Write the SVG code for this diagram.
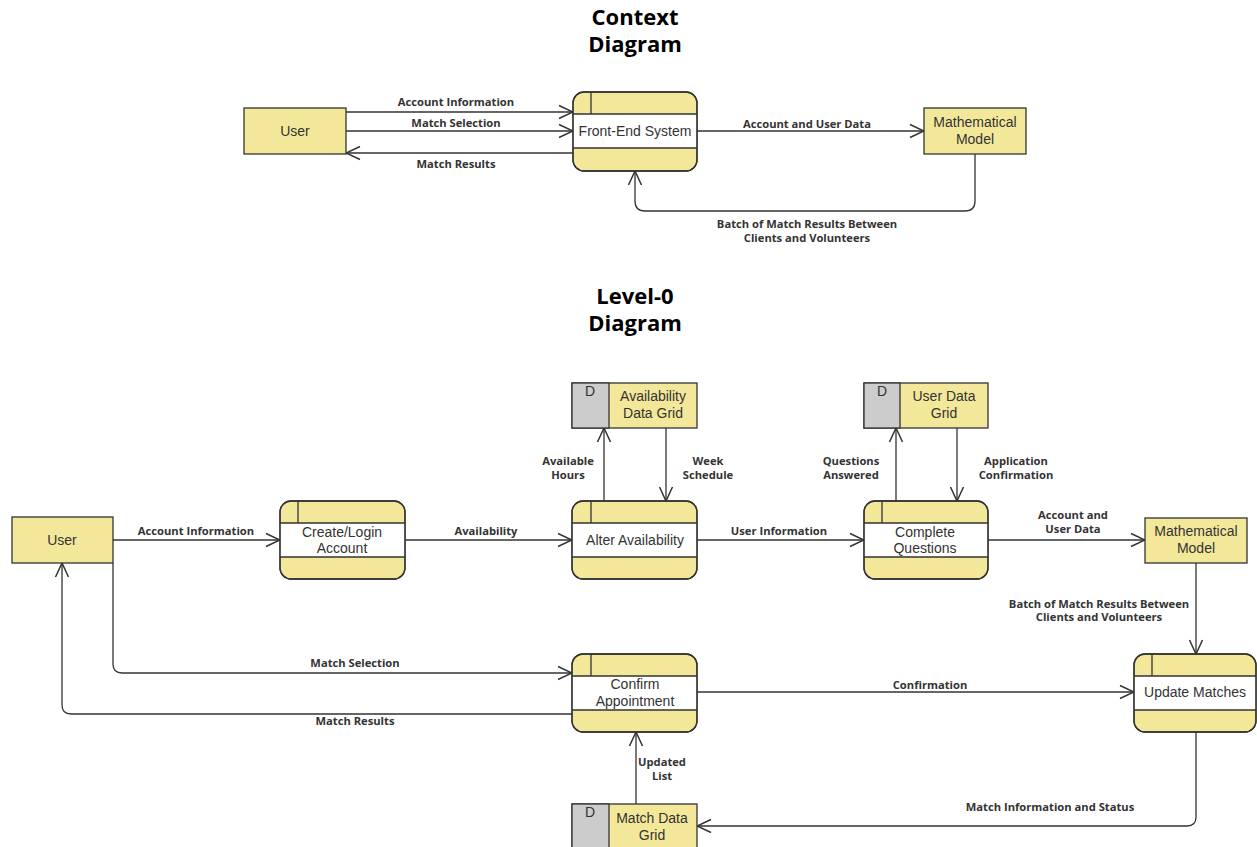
<svg xmlns="http://www.w3.org/2000/svg" width="1257" height="847" viewBox="0 0 1257 847">
<defs>
<marker id="arr" viewBox="-15 -8 16 16" refX="0" refY="0" markerWidth="16" markerHeight="16" markerUnits="userSpaceOnUse" orient="auto">
<path d="M-14,-6.5 L0,0 L-14,6.5" fill="none" stroke="#333" stroke-width="1.5"/>
</marker>
</defs>
<style>
.title{font-family:"Open Sans","Liberation Sans",sans-serif;font-weight:bold;font-size:22px;fill:#000;text-anchor:middle}
.ent{fill:#F3E89A;stroke:#333;stroke-width:1.3}
.gray{fill:#CCCCCC;stroke:#333;stroke-width:1.3}
.white{fill:#fff}
.ln{stroke:#333;stroke-width:1.3;fill:none}
.nt{font-family:"Liberation Sans",Arial,sans-serif;font-size:14px;fill:#333;text-anchor:middle}
.el{font-family:"Open Sans","Liberation Sans",sans-serif;font-weight:bold;font-size:11.2px;fill:#333;text-anchor:middle}
.edge{stroke:#333;stroke-width:1.3;fill:none;marker-end:url(#arr)}
</style>
<rect width="1257" height="847" fill="#fff"/>
<text class="title" x="635" y="25">Context<tspan x="635" dy="27">Diagram</tspan></text>
<text class="title" x="635" y="304">Level-0<tspan x="635" dy="27">Diagram</tspan></text>

<g id="connectors">
<path class="edge" d="M346,112 H573"/>
<path class="edge" d="M346,131 H573"/>
<path class="edge" d="M573,153 H346"/>
<path class="edge" d="M697,131 H924"/>
<path class="edge" d="M975,154 V201 Q975,211 965,211 H645 Q635,211 635,201 V171"/>
<path class="edge" d="M113,540 H280"/>
<path class="edge" d="M405,540 H572"/>
<path class="edge" d="M604,501 V428"/>
<path class="edge" d="M666,428 V501"/>
<path class="edge" d="M697,540 H864"/>
<path class="edge" d="M896,501 V428"/>
<path class="edge" d="M957,428 V501"/>
<path class="edge" d="M988,540 H1145"/>
<path class="edge" d="M1196,563 V654"/>
<path class="edge" d="M697,692 H1134"/>
<path class="edge" d="M113,563 V664 Q113,673 122,673 H572"/>
<path class="edge" d="M572,714 H71 Q62,714 62,705 V563"/>
<path class="edge" d="M636,804 V732"/>
<path class="edge" d="M1196,732 V817 Q1196,826 1187,826 H697"/>
</g>

<g id="edge-labels">
<text class="el" x="456" y="106">Account Information</text>
<text class="el" x="456" y="127">Match Selection</text>
<text class="el" x="456" y="168">Match Results</text>
<text class="el" x="807" y="128">Account and User Data</text>
<text class="el" x="807" y="228">Batch of Match Results Between</text>
<text class="el" x="807" y="242">Clients and Volunteers</text>
<text class="el" x="196" y="535">Account Information</text>
<text class="el" x="486" y="535">Availability</text>
<text class="el" x="568" y="465">Available</text>
<text class="el" x="568" y="479">Hours</text>
<text class="el" x="708" y="465">Week</text>
<text class="el" x="708" y="479">Schedule</text>
<text class="el" x="779" y="535">User Information</text>
<text class="el" x="851" y="465">Questions</text>
<text class="el" x="851" y="479">Answered</text>
<text class="el" x="1016" y="465">Application</text>
<text class="el" x="1016" y="479">Confirmation</text>
<text class="el" x="1073" y="519">Account and</text>
<text class="el" x="1073" y="533">User Data</text>
<text class="el" x="1099" y="608">Batch of Match Results Between</text>
<text class="el" x="1099" y="621">Clients and Volunteers</text>
<text class="el" x="930" y="689">Confirmation</text>
<text class="el" x="355" y="667">Match Selection</text>
<text class="el" x="355" y="725">Match Results</text>
<text class="el" x="662" y="766">Updated</text>
<text class="el" x="662" y="780">List</text>
<text class="el" x="1050" y="811">Match Information and Status</text>
</g>

<g id="ctx-user">
<rect class="ent" x="244" y="108" width="102" height="46"/>
<text class="nt" x="295" y="136">User</text>
</g>
<g id="ctx-frontend">
<rect class="ent" x="573" y="92" width="124" height="79" rx="11"/>
<rect class="white" x="573.7" y="114" width="122.6" height="34"/>
<path class="ln" d="M573,114 H697 M573,148 H697 M591,92 V114"/>
<rect x="573" y="92" width="124" height="79" rx="11" fill="none" stroke="#333" stroke-width="1.3"/>
<text class="nt" x="635" y="136">Front-End System</text>
</g>
<g id="ctx-math">
<rect class="ent" x="924" y="108" width="102" height="46"/>
<text class="nt" x="975" y="127">Mathematical</text>
<text class="nt" x="975" y="144">Model</text>
</g>

<g id="user">
<rect class="ent" x="12" y="517" width="101" height="46"/>
<text class="nt" x="62" y="545">User</text>
</g>
<g id="create-login">
<rect class="ent" x="280" y="501" width="125" height="78" rx="11"/>
<rect class="white" x="280.7" y="523" width="123.6" height="34"/>
<path class="ln" d="M280,523 H405 M280,557 H405 M298,501 V523"/>
<rect x="280" y="501" width="125" height="78" rx="11" fill="none" stroke="#333" stroke-width="1.3"/>
<text class="nt" x="342" y="537">Create/Login</text>
<text class="nt" x="342" y="553">Account</text>
</g>
<g id="alter-availability">
<rect class="ent" x="572" y="501" width="125" height="78" rx="11"/>
<rect class="white" x="572.7" y="523" width="123.6" height="34"/>
<path class="ln" d="M572,523 H697 M572,557 H697 M591,501 V523"/>
<rect x="572" y="501" width="125" height="78" rx="11" fill="none" stroke="#333" stroke-width="1.3"/>
<text class="nt" x="635" y="545">Alter Availability</text>
</g>
<g id="availability-grid">
<rect class="ent" x="572" y="383" width="125" height="45"/>
<rect class="gray" x="572" y="383" width="37" height="45"/>
<text class="nt" x="590" y="396">D</text>
<text class="nt" x="653" y="401">Availability</text>
<text class="nt" x="653" y="418">Data Grid</text>
</g>
<g id="complete-questions">
<rect class="ent" x="864" y="501" width="124" height="78" rx="11"/>
<rect class="white" x="864.7" y="523" width="122.6" height="34"/>
<path class="ln" d="M864,523 H988 M864,557 H988 M882,501 V523"/>
<rect x="864" y="501" width="124" height="78" rx="11" fill="none" stroke="#333" stroke-width="1.3"/>
<text class="nt" x="925" y="537">Complete</text>
<text class="nt" x="925" y="553">Questions</text>
</g>
<g id="user-data-grid">
<rect class="ent" x="864" y="383" width="124" height="45"/>
<rect class="gray" x="864" y="383" width="36" height="45"/>
<text class="nt" x="882" y="396">D</text>
<text class="nt" x="944" y="401">User Data</text>
<text class="nt" x="944" y="418">Grid</text>
</g>
<g id="math-model">
<rect class="ent" x="1145" y="518" width="102" height="45"/>
<text class="nt" x="1196" y="536">Mathematical</text>
<text class="nt" x="1196" y="553">Model</text>
</g>
<g id="update-matches">
<rect class="ent" x="1134" y="654" width="122" height="78" rx="11"/>
<rect class="white" x="1134.7" y="676" width="120.6" height="34"/>
<path class="ln" d="M1134,676 H1256 M1134,710 H1256 M1152,654 V676"/>
<rect x="1134" y="654" width="122" height="78" rx="11" fill="none" stroke="#333" stroke-width="1.3"/>
<text class="nt" x="1195" y="697">Update Matches</text>
</g>
<g id="confirm-appointment">
<rect class="ent" x="572" y="654" width="125" height="78" rx="11"/>
<rect class="white" x="572.7" y="676" width="123.6" height="34"/>
<path class="ln" d="M572,676 H697 M572,710 H697 M591,654 V676"/>
<rect x="572" y="654" width="125" height="78" rx="11" fill="none" stroke="#333" stroke-width="1.3"/>
<text class="nt" x="635" y="689">Confirm</text>
<text class="nt" x="635" y="706">Appointment</text>
</g>
<g id="match-data-grid">
<rect class="ent" x="572" y="804" width="125" height="46"/>
<rect class="gray" x="572" y="804" width="37" height="46"/>
<text class="nt" x="590" y="817">D</text>
<text class="nt" x="652" y="823">Match Data</text>
<text class="nt" x="652" y="840">Grid</text>
</g>
</svg>
